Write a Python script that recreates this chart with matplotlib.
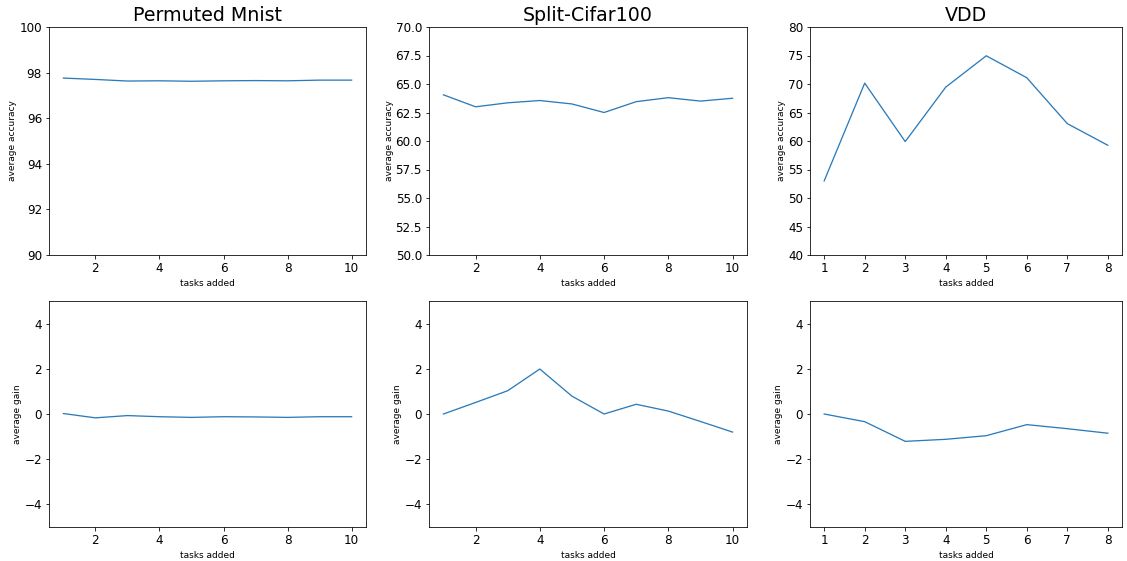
import matplotlib
matplotlib.use("Agg")
import matplotlib.pyplot as plt

# tasks added
tasks_10 = [1, 2, 3, 4, 5, 6, 7, 8, 9, 10]
tasks_8 = [1, 2, 3, 4, 5, 6, 7, 8]

titles = ["Permuted Mnist", "Split-Cifar100", "VDD"]

# average accuracy
mnist_acc = [97.76, 97.70, 97.63, 97.64, 97.62, 97.64, 97.65, 97.64, 97.67, 97.67]
cifar_acc = [64.05, 63.0, 63.35, 63.55, 63.25, 62.5, 63.45, 63.8, 63.5, 63.75]
vdd_acc = [53.0, 70.15, 59.9, 69.45, 74.95, 71.1, 63.05, 59.25]

# average gain
mnist_gain = [0.02, -0.17, -0.07, -0.12, -0.15, -0.12, -0.13, -0.15, -0.12, -0.12]
cifar_gain = [0.0, 0.51, 1.03, 1.99, 0.79, 0.0, 0.43, 0.13, -0.33, -0.8]
vdd_gain = [0.0, -0.34, -1.21, -1.12, -0.96, -0.47, -0.65, -0.85]

acc_ylims = [(90, 100), (50, 70), (40, 80)]

W, H = 1127, 561
fig = plt.figure(figsize=(W / 72, H / 72), dpi=72)

col_px = [(49, 366), (429, 747), (810, 1122)]
top_px = (27, 255)
bot_px = (301, 527)


def make_axes(cols, rows):
    x0, x1 = cols
    y0, y1 = rows
    return fig.add_axes([x0 / W, 1 - y1 / H, (x1 - x0) / W, (y1 - y0) / H])


xs = [tasks_10, tasks_10, tasks_8]
accs = [mnist_acc, cifar_acc, vdd_acc]
gains = [mnist_gain, cifar_gain, vdd_gain]

for i in range(3):
    ax = make_axes(col_px[i], top_px)
    ax.plot(xs[i], accs[i], color="#2b7bba", linewidth=1.3)
    ax.set_ylim(*acc_ylims[i])
    ax.set_title(titles[i], fontsize=19)
    ax.set_xlabel("tasks added", fontsize=9)
    ax.set_ylabel("average accuracy", fontsize=9, labelpad=2)
    ax.tick_params(labelsize=12)
    if i == 2:
        ax.set_xticks(tasks_8)

    ax = make_axes(col_px[i], bot_px)
    ax.plot(xs[i], gains[i], color="#2b7bba", linewidth=1.3)
    ax.set_ylim(-5, 5)
    ax.set_yticks([-4, -2, 0, 2, 4])
    ax.set_xlabel("tasks added", fontsize=9)
    ax.set_ylabel("average gain", fontsize=9, labelpad=2)
    ax.tick_params(labelsize=12)
    if i == 2:
        ax.set_xticks(tasks_8)

fig.savefig("out.png", dpi=72)
